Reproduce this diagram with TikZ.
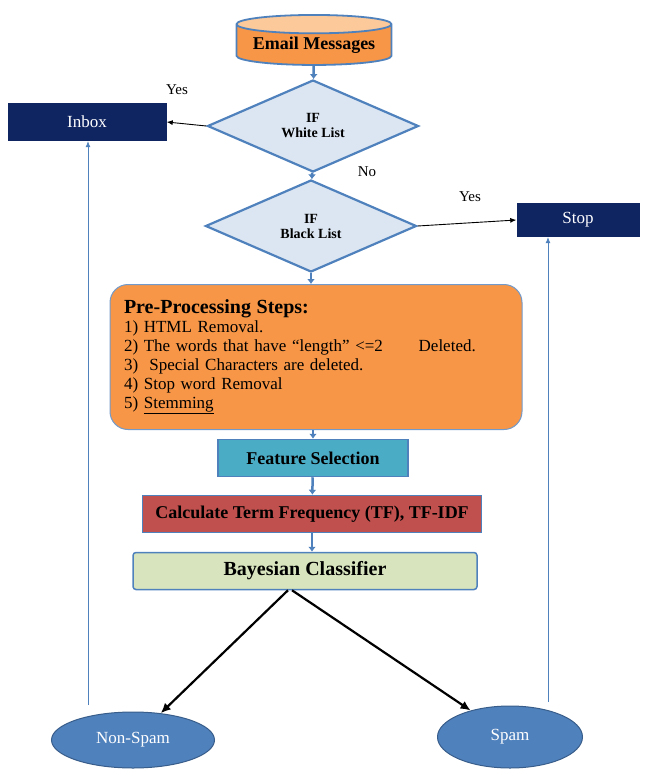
\documentclass[tikz,border=0pt]{standalone}
\usepackage{fontspec}
\setmainfont{Liberation Serif}
\usetikzlibrary{arrows.meta,shapes.geometric}
\definecolor{navy}{HTML}{0F2562}
\definecolor{linkblue}{HTML}{4F81BD}
\definecolor{paleblue}{HTML}{DCE6F2}
\definecolor{mailorange}{HTML}{F79646}
\definecolor{mailcap}{HTML}{FBC99A}
\definecolor{teal}{HTML}{4BACC6}
\definecolor{brick}{HTML}{C0504D}
\definecolor{sage}{HTML}{D7E4BD}
\definecolor{deepblue}{HTML}{385D8A}

\begin{document}
\begin{tikzpicture}[
  x=1pt, y=-1pt,
  >=Latex,
  box/.style={draw=linkblue, line width=1.5pt, align=center, inner sep=2pt,
    font=\bfseries\fontsize{18}{20}\selectfont},
  store/.style={cylinder, shape border rotate=90, aspect=0.15, draw=linkblue,
    line width=1.8pt, cylinder uses custom fill, cylinder body fill=mailorange,
    cylinder end fill=mailcap, minimum width=155pt, minimum height=50pt,
    inner sep=0pt, font=\bfseries\fontsize{18}{20}\selectfont},
  decision/.style={diamond, draw=linkblue, line width=2.2pt, fill=paleblue,
    minimum width=211pt, minimum height=92pt, inner sep=0pt, align=center,
    font=\bfseries\fontsize{14}{15}\selectfont},
  outbox/.style={fill=navy, text=white, minimum height=38pt,
    font=\fontsize{17}{19}\selectfont},
  leaf/.style={ellipse, draw=deepblue, line width=1pt, fill=linkblue,
    text=white, inner sep=0pt, font=\fontsize{17}{19}\selectfont},
  flow/.style={-{Latex[length=5pt,width=8pt]}, line width=2.5pt, draw=linkblue},
  plain/.style={-{Latex[length=6pt,width=5pt]}, line width=0.9pt},
  split/.style={-{Latex[length=10pt,width=9pt]}, line width=2.2pt},
  back/.style={-{Latex[length=6pt,width=5pt]}, line width=0.7pt, draw=linkblue},
  tag/.style={font=\fontsize{15}{17}\selectfont}
]
\useasboundingbox (0,0) rectangle (648,769);
\node[store] (email) at (314,45) {Email Messages};
\node[decision] (white) at (313,126) {IF\\White List};
\node[outbox, minimum width=159pt] (inbox) at (87,122) {Inbox};
\node[decision] (black) at (311,226) {IF\\Black List};
\node[outbox, minimum width=123pt, minimum height=34pt] (stop) at (578,220) {Stop};
\node[box, fill=mailorange, draw=linkblue!80, line width=1pt, rounded corners=18pt,
  minimum width=412pt, minimum height=145pt, text width=384pt, align=left,
  font=\fontsize{17}{19}\selectfont] (pre) at (316,357)
  {{\bfseries\fontsize{20}{22}\selectfont Pre-Processing Steps:}\\
   1) HTML Removal.\\
   2) The words that have “length” <=2\hspace{2.1em}Deleted.\\
   3)\ \ Special Characters are deleted.\\
   4) Stop word Removal\\
   5) \underline{Stemming}};
\node[box, fill=teal, minimum width=190pt, minimum height=37pt] (feature) at (313,458)
  {Feature Selection};
\node[box, fill=brick, minimum width=339pt, minimum height=37pt] (tfidf) at (312,514)
  {Calculate Term Frequency (TF), TF-IDF};
\node[box, fill=sage, rounded corners=3pt, minimum width=344pt, minimum height=37pt,
  font=\bfseries\fontsize{20}{22}\selectfont] (bayes) at (305,571)
  {Bayesian Classifier};
\node[leaf, minimum width=163pt, minimum height=56pt] (nonspam) at (133,740) {Non-Spam};
\node[leaf, minimum width=145pt, minimum height=62pt] (spam) at (510,737) {Spam};
\node[tag] (yes1) at (177,90) {Yes};
\node[tag] (no) at (367,172) {No};
\node[tag] (yes2) at (470,197) {Yes};
\coordinate (nsfoot) at (88,705);
\coordinate (spfoot) at (548,702);
% main flow
\draw[flow] (email) -- (white);
\draw[flow] (white) -- (black);
\draw[flow] (black) -- (black |- pre.north);
\draw[flow] ([xshift=-3pt]pre.south) -- ([xshift=-3pt]pre.south |- feature.north);
\draw[flow] (feature) -- (tfidf);
\draw[flow] (tfidf.south) -- (tfidf.south |- bayes.north);
% decisions
\draw[plain] (white.west) -- (inbox.east);
\draw[plain] (black.east) -- (stop.west);
\draw[split] ([xshift=-17pt]bayes.south) -- (nonspam);
\draw[split] ([xshift=-13pt]bayes.south) -- (spam);
% results back up
\draw[back] (nsfoot) -- (nsfoot |- inbox.south);
\draw[back] (spfoot) -- (spfoot |- stop.south);
\end{tikzpicture}
\end{document}
